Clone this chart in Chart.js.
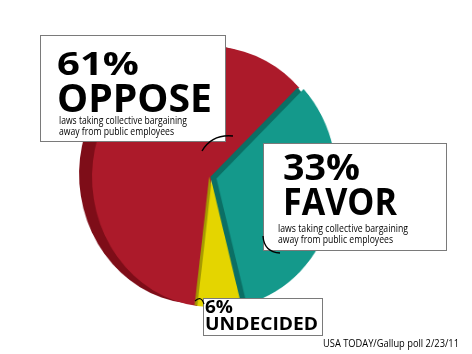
<!DOCTYPE html>
<html>
<head>
<meta charset="utf-8">
<script src="https://cdn.jsdelivr.net/npm/chart.js@4/dist/chart.umd.min.js"></script>
<style>
  html,body{margin:0;padding:0;background:#fff;}
  #wrap{position:relative;width:472px;height:354px;overflow:hidden;background:#fff;}
  #pie{position:absolute;left:0;top:0;width:472px;height:354px;transform-origin:212px 177px;transform:scaleX(0.923);}
  .box{position:absolute;background:#fff;border:1px solid #7a7a7a;box-sizing:border-box;}
  .t{position:absolute;white-space:nowrap;font-family:"Open Sans","Noto Sans",sans-serif;color:#000;transform-origin:0 0;display:inline-block;}
  svg{position:absolute;left:0;top:0;}
</style>
</head>
<body>
<div id="wrap">
  <canvas id="pie" width="472" height="354"></canvas>
  <div class="box" style="left:40px;top:35px;width:186px;height:107px;"></div>
  <div class="box" style="left:263px;top:143px;width:184px;height:108px;"></div>
  <div class="box" style="left:203px;top:298px;width:120px;height:38px;"></div>
  <svg width="472" height="354">
    <path d="M202,151 Q212,134 233,136" fill="none" stroke="#000" stroke-width="1.4"/>
    <path d="M263,236 Q264,252 280,253" fill="none" stroke="#000" stroke-width="1.4"/>
    <path d="M195,301 Q201,295 204,304" fill="none" stroke="#000" stroke-width="1.2"/>
  </svg>
  <div id="texts"></div>
</div>
<script>
// ---- data ----
const categories = ['OPPOSE', 'FAVOR', 'UNDECIDED'];
const values = [61, 33, 6];
const subtitleLines = ['laws taking collective bargaining', 'away from public employees'];
const sourceText = 'USA TODAY/Gallup poll 2/23/11';

// ---- styles ----
const sliceColors = ['#AC1A2A', '#14998B', '#E4D500'];
const sideColors  = ['#7E0D18', '#0B6F65', '#A59A00'];
const drawOrder = [0, 2, 1];
const explode = [0, 5, 0];
const depthShift = [[-14, -3], [-6.5, -1.6], [-3, -0.8]];

const depthPlugin = {
  id: 'depth',
  beforeDatasetsDraw(chart) {
    const ctx = chart.ctx;
    const meta = chart.getDatasetMeta(0);
    drawOrder.forEach(i => {
      const arc = meta.data[i];
      const p = arc.getProps(['x', 'y', 'startAngle', 'endAngle', 'outerRadius'], true);
      const half = (p.startAngle + p.endAngle) / 2;
      ctx.save();
      ctx.translate(Math.cos(half) * explode[i], Math.sin(half) * explode[i]);
      ctx.save();
      ctx.translate(depthShift[i][0], depthShift[i][1]);
      ctx.beginPath();
      ctx.moveTo(p.x, p.y);
      ctx.arc(p.x, p.y, p.outerRadius, p.startAngle, p.endAngle);
      ctx.closePath();
      ctx.fillStyle = sideColors[i];
      ctx.fill();
      ctx.restore();
      arc.draw(ctx);
      ctx.restore();
    });
    return false;
  }
};

new Chart(document.getElementById('pie'), {
  type: 'pie',
  data: {
    labels: categories,
    datasets: [{ data: values, backgroundColor: sliceColors, borderWidth: 0 }]
  },
  options: {
    responsive: false,
    animation: false,
    events: [],
    rotation: 187,
    layout: { padding: { left: 82, right: 130, top: 47, bottom: 47 } },
    plugins: { legend: { display: false }, tooltip: { enabled: false } }
  },
  plugins: [depthPlugin]
});

// ---- text layout ----
const pct = v => v + '%';
const lines = [
  { text: pct(values[0]), x: 57, base: 75, size: 32, w: 82, bold: true },
  { text: categories[0], x: 57, base: 112, size: 39, w: 155, bold: true },
  { text: subtitleLines[0], x: 59, base: 124.5, size: 11.5, w: 128 },
  { text: subtitleLines[1], x: 59, base: 135.5, size: 11.5, w: 115 },
  { text: pct(values[1]), x: 283, base: 180, size: 35, w: 77, bold: true },
  { text: categories[1], x: 283, base: 215, size: 38, w: 114, bold: true },
  { text: subtitleLines[0], x: 278, base: 232, size: 11.5, w: 130 },
  { text: subtitleLines[1], x: 278, base: 243, size: 11.5, w: 115 },
  { text: pct(values[2]), x: 205, base: 313, size: 18, w: 28, bold: true },
  { text: categories[2], x: 205, base: 330, size: 18.5, w: 113, bold: true },
  { text: sourceText, x: 323, base: 347, size: 10.5, w: 136 }
];
const holder = document.getElementById('texts');
const els = lines.map(l => {
  const d = document.createElement('div');
  d.className = 't';
  d.textContent = l.text;
  d.style.left = l.x + 'px';
  d.style.top = (l.base - 0.888 * l.size) + 'px';
  d.style.fontSize = l.size + 'px';
  d.style.lineHeight = l.size + 'px';
  d.style.fontWeight = l.bold ? '700' : '400';
  holder.appendChild(d);
  return d;
});
function fit() {
  els.forEach((d, i) => {
    d.style.transform = 'none';
    const w = d.getBoundingClientRect().width;
    if (w > 0) d.style.transform = 'scaleX(' + (lines[i].w / w) + ')';
  });
}
fit();
if (document.fonts && document.fonts.ready) document.fonts.ready.then(fit);
</script>
</body>
</html>
